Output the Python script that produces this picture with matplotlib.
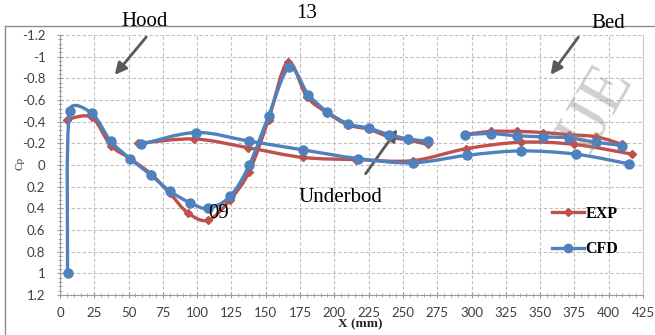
import numpy as np
import matplotlib
matplotlib.use("Agg")
import matplotlib.pyplot as plt
from matplotlib.path import Path
from matplotlib.patches import PathPatch
from matplotlib.lines import Line2D
from matplotlib.ticker import MultipleLocator


# Распределение Cp вдоль модели (X, мм)
# верхняя линия: капот -> лобовое -> крыша
exp_top_x = [5, 23, 37, 51, 66, 80, 93, 108, 124, 138, 152, 166, 180, 195, 210, 225, 240, 254, 268]
exp_top_cp = [-0.42, -0.44, -0.18, -0.06, 0.08, 0.26, 0.44, 0.51, 0.32, 0.06, -0.42, -0.95,
              -0.63, -0.48, -0.37, -0.33, -0.26, -0.23, -0.19]
cfd_top_x = [5.5, 7, 23, 37, 51, 66, 80, 95, 108, 124, 138, 152, 167, 181, 195, 210, 225, 240, 254, 268]
cfd_top_cp = [1.0, -0.50, -0.48, -0.22, -0.06, 0.09, 0.24, 0.35, 0.40, 0.29, 0.0, -0.45, -0.90,
              -0.65, -0.49, -0.38, -0.34, -0.28, -0.24, -0.22]

# днище
exp_under_x = [57, 98, 137, 177, 216, 257, 296, 336, 375, 417]
exp_under_cp = [-0.20, -0.24, -0.16, -0.07, -0.05, -0.04, -0.15, -0.21, -0.19, -0.10]
cfd_under_x = [59, 99, 138, 177, 217, 257, 297, 336, 376, 415]
cfd_under_cp = [-0.19, -0.30, -0.22, -0.14, -0.06, -0.02, -0.09, -0.13, -0.10, -0.01]

# кузов (bed)
exp_bed_x = [295, 314, 333, 352, 371, 391, 410]
exp_bed_cp = [-0.28, -0.31, -0.31, -0.30, -0.28, -0.26, -0.19]
cfd_bed_x = [295, 314, 333, 352, 371, 391, 410]
cfd_bed_cp = [-0.28, -0.29, -0.27, -0.26, -0.25, -0.21, -0.18]

y_ticks = [-1.2, -1.0, -0.8, -0.6, -0.4, -0.2, 0, 0.2, 0.4, 0.6, 0.8, 1.0, 1.2]
y_tick_labels = ["-1.2", "-1", "-0.8", "-0.6", "-0.4", "-0.2", "0", "0.2", "0.4", "0.6", "0.8", "1", "1.2"]

EXP_COLOR = "#C0504D"
CFD_COLOR = "#4F81BD"
Y_SCALE = 79.0  # отношение масштабов осей (пиксели на единицу Cp / на мм)


def smooth_path(xs, ys, k=1 / 6):
    # сглаженная линия как в Excel: кубические Безье по соседним точкам,
    # длина касательной ограничена половиной отрезка, чтобы не было выбросов
    pts = np.column_stack([xs, ys]).astype(float)
    sc = np.array([1.0, Y_SCALE])
    verts = [pts[0]]
    codes = [Path.MOVETO]
    n = len(pts)
    for i in range(n - 1):
        p0 = pts[max(i - 1, 0)]
        p1 = pts[i]
        p2 = pts[i + 1]
        p3 = pts[min(i + 2, n - 1)]
        seg = np.linalg.norm((p2 - p1) * sc)
        c1 = (p2 - p0) * k
        c2 = (p3 - p1) * k
        for c in (c1, c2):
            ln = np.linalg.norm(c * sc)
            if ln > 0.5 * seg:
                c *= 0.5 * seg / ln
        verts += [p1 + c1, p2 - c2, p2]
        codes += [Path.CURVE4] * 3
    return Path(verts, codes)


def draw_series(ax, xs, ys, color, marker, ms, z):
    ax.add_patch(PathPatch(smooth_path(xs, ys), fill=False, edgecolor=color,
                           linewidth=2.4, capstyle="round", joinstyle="round", zorder=z))
    ax.plot(xs, ys, linestyle="none", marker=marker, markersize=ms,
            color=color, zorder=z + 0.5)


fig = plt.figure(figsize=(6.55, 3.35), dpi=100)
ax = fig.add_axes([60 / 655, 1 - 295 / 335, 583 / 655, 260 / 335])

for xs, ys in [(exp_top_x, exp_top_cp), (exp_under_x, exp_under_cp), (exp_bed_x, exp_bed_cp)]:
    draw_series(ax, xs, ys, EXP_COLOR, "D", 4.5, 3)
for xs, ys in [(cfd_top_x, cfd_top_cp), (cfd_under_x, cfd_under_cp), (cfd_bed_x, cfd_bed_cp)]:
    draw_series(ax, xs, ys, CFD_COLOR, "o", 6.5, 4)

ax.set_xlim(0, 425)
ax.set_ylim(1.2, -1.2)
ax.set_xticks(np.arange(0, 426, 25))
ax.set_yticks(y_ticks)
ax.set_yticklabels(y_tick_labels)
ax.xaxis.set_minor_locator(MultipleLocator(5))
ax.yaxis.set_minor_locator(MultipleLocator(0.04))

ax.grid(True, which="major", color="#BFBFBF", linestyle=(0, (3, 2)), linewidth=0.8)
ax.set_axisbelow(True)
for side in ["left", "bottom"]:
    ax.spines[side].set_color("#9A9A9A")
ax.spines["top"].set_visible(False)
ax.spines["right"].set_color("#C8C8C8")

ax.tick_params(which="both", direction="inout", colors="#9A9A9A", labelcolor="#404040",
               labelsize=9.5)
ax.tick_params(which="major", length=5)
ax.tick_params(which="minor", length=3)
ax.tick_params(axis="x", pad=6)
ax.tick_params(axis="y", pad=8)
for lbl in ax.get_xticklabels() + ax.get_yticklabels():
    lbl.set_fontfamily("Lato")

# подпись осей
fig.text(20 / 655, 1 - 163 / 335, "Cp", rotation=90, ha="center", va="center",
         fontsize=8, family="Liberation Serif", color="#333333")
fig.text(360 / 655, 1 - 324 / 335, "X (mm)", ha="center", va="center",
         fontsize=9.5, family="Liberation Serif", fontweight="bold", color="#222222")

# легенда
handles = [Line2D([], [], color=EXP_COLOR, marker="D", markersize=4.5, linewidth=2.4),
           Line2D([], [], color=CFD_COLOR, marker="o", markersize=6, linewidth=2.4)]
ax.legend(handles, ["EXP", "CFD"], loc="upper left", bbox_to_anchor=(552 / 655, 1 - 206 / 335),
          bbox_transform=fig.transFigure, frameon=False, handlelength=2.0, handletextpad=0.1,
          labelspacing=1.2, borderpad=0, borderaxespad=0,
          prop={"family": "Liberation Serif", "weight": "bold", "size": 11.5})

# рамка области диаграммы
fig.add_artist(Line2D([5 / 655, 5 / 655], [0, 1 - 26 / 335], transform=fig.transFigure,
                      color="#8C8C8C", linewidth=1))
fig.add_artist(Line2D([5 / 655, 1], [1 - 26 / 335, 1 - 26 / 335], transform=fig.transFigure,
                      color="#8C8C8C", linewidth=1))

# водяной знак
fig.text(596 / 655, 1 - 108 / 335, "IJE", rotation=60, ha="center", va="center",
         fontsize=48, family="Liberation Serif", color="#8A8A8A", alpha=0.4, zorder=10)

# подписи зон
serif = dict(family="Liberation Serif", fontsize=15, color="black", ha="center", va="center")
fig.text(145 / 655, 1 - 22 / 335, "Hood", **serif)
fig.text(307 / 655, 1 - 13 / 335, "13", **serif)
fig.text(608 / 655, 1 - 24 / 335, "Bed", **serif)
fig.text(340 / 655, 1 - 198 / 335, "Underbod", **serif)
fig.text(219 / 655, 1 - 213 / 335, "09", **serif)

arrow = dict(arrowstyle="-|>,head_length=0.7,head_width=0.35", color="#595959", linewidth=2)
for start, tip in [((148, 35), (113, 77)), ((580, 35), (549, 77)), ((364, 176), (399, 127))]:
    ax.annotate("", xy=(tip[0], 335 - tip[1]), xytext=(start[0], 335 - start[1]),
                xycoords="figure pixels", textcoords="figure pixels", arrowprops=arrow,
                annotation_clip=False)

fig.savefig("out.png", dpi=100)
